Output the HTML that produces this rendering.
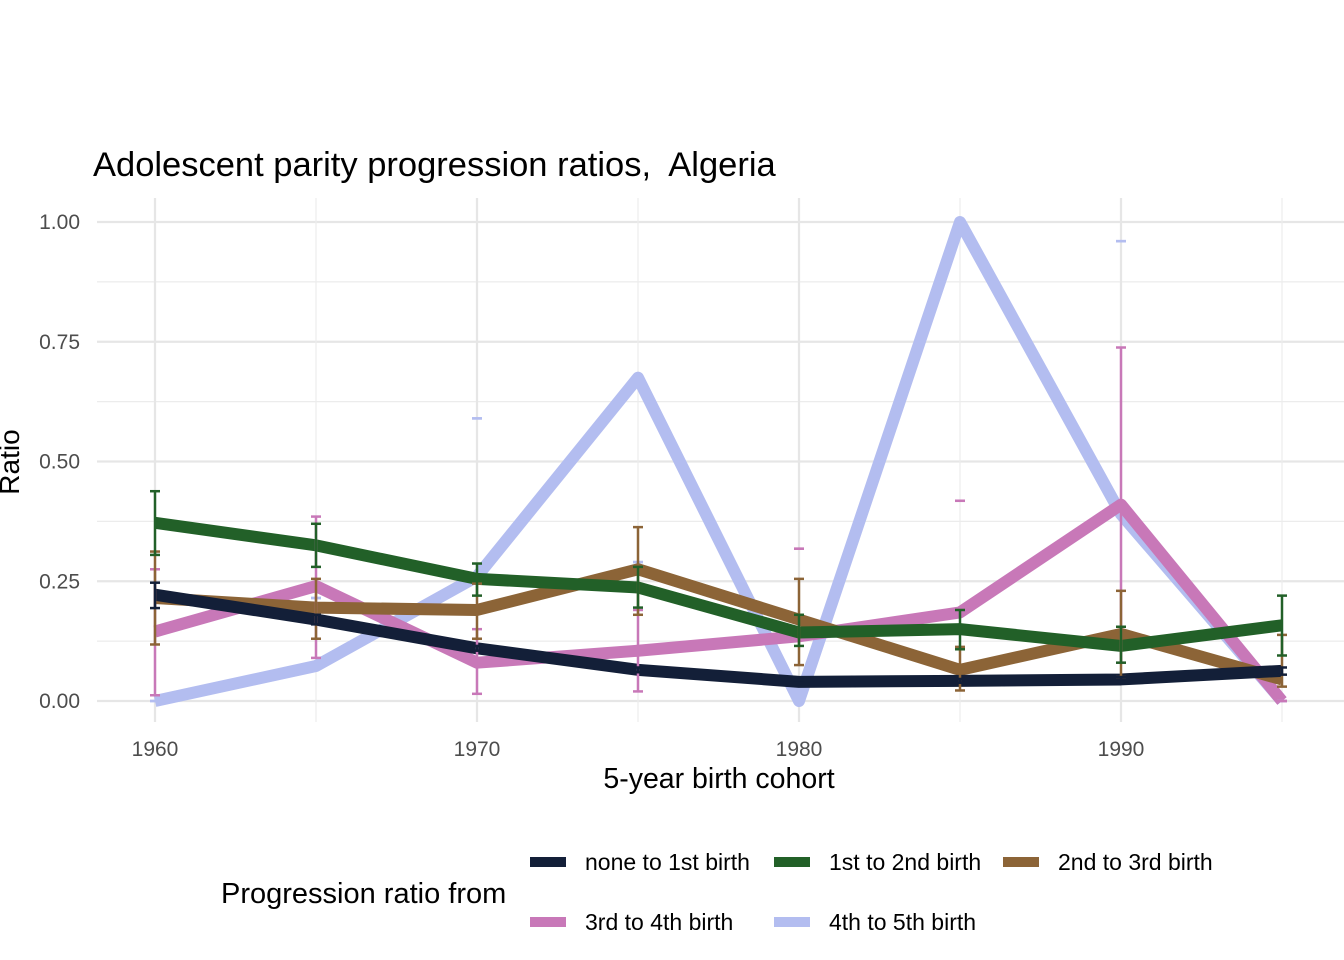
<!DOCTYPE html>
<html><head><meta charset="utf-8"><style>
body{margin:0;background:#fff}
svg{display:block;font-family:"Liberation Sans",Arial,sans-serif}
</style></head><body>
<svg id="chart" width="1344" height="960">
<text x="93" y="176" font-size="34.5" fill="#000" xml:space="preserve" style="white-space:pre">Adolescent parity progression ratios,  Algeria</text>
<g id="grid"></g>
<g id="ebars"></g>
<g id="lines"></g>
<g id="axes"></g>
<text x="719" y="788" font-size="28.5" text-anchor="middle">5-year birth cohort</text>
<text transform="translate(19,462) rotate(-90)" font-size="28" text-anchor="middle">Ratio</text>
<g id="legend">
<text x="221" y="903" font-size="29">Progression ratio from</text>
</g>
</svg>
<script>
const years=[1960,1965,1970,1975,1980,1985,1990,1995];
const seriesNames=["none to 1st birth","1st to 2nd birth","2nd to 3rd birth","3rd to 4th birth","4th to 5th birth"];
const colors=["#131f38","#226028","#8c6437","#c878b8","#b3bdf0"];
const vNone=[0.222,0.17,0.11,0.065,0.04,0.042,0.045,0.063];
const v1st=[0.372,0.325,0.255,0.237,0.143,0.15,0.115,0.158];
const v2nd=[0.215,0.195,0.19,0.275,0.17,0.065,0.14,0.045];
const v3rd=[0.145,0.24,0.08,0.105,0.135,0.185,0.41,0.0];
const v4th=[0.0,0.073,0.26,0.675,0.0,1.0,0.39,0.0];
const loNone=[0.194,0.16,0.105,0.06,0.036,0.038,0.04,0.055];
const hiNone=[0.247,0.18,0.115,0.07,0.044,0.046,0.05,0.07];
const lo1st=[0.305,0.28,0.22,0.195,0.115,0.108,0.08,0.095];
const hi1st=[0.438,0.37,0.287,0.28,0.18,0.19,0.155,0.22];
const lo2nd=[0.118,0.13,0.13,0.18,0.075,0.022,0.05,0.03];
const hi2nd=[0.312,0.255,0.245,0.363,0.255,0.113,0.23,0.138];
const lo3rd=[0.012,0.09,0.015,0.02,0.318,0.418,0.08,0.0];
const hi3rd=[0.275,0.385,0.15,0.19,0.318,0.418,0.738,0.0];
const lo4th=[0.0,0.215,0.59,0.29,0.0,1.0,0.96,0.0];
const hi4th=[0.0,0.215,0.59,0.29,0.0,1.0,0.96,0.0];
const yTicks=[0,0.25,0.5,0.75,1.0];
const yTickLabels=["0.00","0.25","0.50","0.75","1.00"];
const xTicks=[1960,1970,1980,1990];
const xMinor=[1965,1975,1985,1995];

const NS="http://www.w3.org/2000/svg";
const X=yr=>155+32.2*(yr-1960);
const Y=v=>701-479*v;
const L=97,R=1344,T=198,B=722;
function mk(tag,attrs,parent){const e=document.createElementNS(NS,tag);for(const k in attrs)e.setAttribute(k,attrs[k]);parent.appendChild(e);return e;}
const grid=document.getElementById('grid'),axes=document.getElementById('axes');
yTicks.forEach((t,i)=>{
  const g=mk('line',{x1:L,x2:R,y1:Y(t),y2:Y(t),stroke:'#e6e6e6','stroke-width':2.2},grid);
  
  
  if(i<yTicks.length-1){const m=mk('line',{x1:L,x2:R,y1:Y(t+0.125),y2:Y(t+0.125),stroke:'#ececec','stroke-width':1.2},grid);
  
  }
  const tx=mk('text',{x:80,y:Y(t)+7,'font-size':21,'text-anchor':'end',fill:'#4d4d4d'},axes);tx.textContent=yTickLabels[i];
  
  
});
xMinor.forEach(t=>{const m=mk('line',{x1:X(t),x2:X(t),y1:T,y2:B,stroke:'#ececec','stroke-width':1.2},grid);
  
  });
xTicks.forEach(t=>{const g=mk('line',{x1:X(t),x2:X(t),y1:T,y2:B,stroke:'#e6e6e6','stroke-width':2.2},grid);
  
  
  const tx=mk('text',{x:X(t),y:756,'font-size':21,'text-anchor':'middle',fill:'#4d4d4d'},axes);tx.textContent=t;
  
  });
const vals=[vNone,v1st,v2nd,v3rd,v4th],los=[loNone,lo1st,lo2nd,lo3rd,lo4th],his=[hiNone,hi1st,hi2nd,hi3rd,hi4th];
const eb=document.getElementById('ebars'),ln=document.getElementById('lines');
const order=[4,3,2,1,0];
order.forEach(s=>{
  const pts=years.map((yr,i)=>X(yr)+','+Y(vals[s][i])).join(' ');
  const p=mk('polyline',{points:pts,fill:'none',stroke:colors[s],'stroke-width':12,'stroke-linejoin':'round'},ln);
  
  
});
order.forEach(s=>{
  years.forEach((yr,i)=>{
    const x=X(yr),y1=Y(los[s][i]),y2=Y(his[s][i]);
    const g=mk('g',{stroke:colors[s],'stroke-width':2.5},eb);
    
    
    mk('line',{x1:x,x2:x,y1:y1,y2:y2},g);
    mk('line',{x1:x-5,x2:x+5,y1:y1,y2:y1},g);
    mk('line',{x1:x-5,x2:x+5,y1:y2,y2:y2},g);
  });
});
document.getElementById('chart').appendChild(eb);
const lg=document.getElementById('legend');
const pos=[[530,862],[774,862],[1003,862],[530,922],[774,922]];
seriesNames.forEach((n,s)=>{
  const g=mk('g',{},lg);
  
  
  mk('rect',{x:pos[s][0],y:pos[s][1]-5,width:36,height:10,fill:colors[s]},g);
  const t=mk('text',{x:pos[s][0]+55,y:pos[s][1]+8,'font-size':23},g);t.textContent=n;
});
</script>
</body></html>
